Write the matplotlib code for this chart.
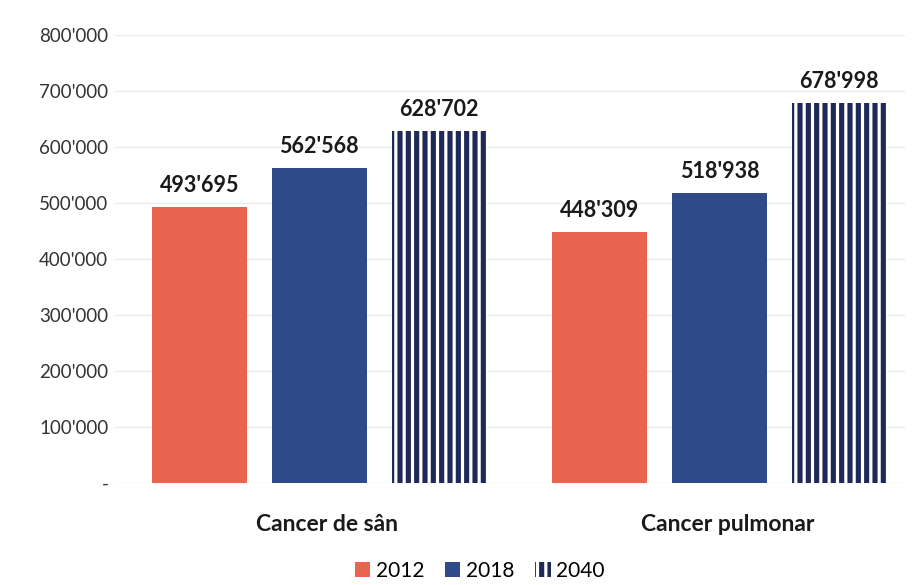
import matplotlib.pyplot as plt

plt.rcParams['font.family'] = ['Lato', 'DejaVu Sans']
plt.rcParams['hatch.linewidth'] = 2.3

categorii = ['Cancer de sân', 'Cancer pulmonar']
ani = ['2012', '2018', '2040']
valori = {
    '2012': [493695, 448309],
    '2018': [562568, 518938],
    '2040': [628702, 678998],
}
etichete_y = ["-", "100'000", "200'000", "300'000", "400'000",
              "500'000", "600'000", "700'000", "800'000"]

culori = {'2012': '#E9644E', '2018': '#2E4A88', '2040': '#1E2957'}
hasuri = {'2012': None, '2018': None, '2040': '||'}

def fmt(v):  # separator de mii cu apostrof
    return f"{v:,}".replace(',', "'")

fig = plt.figure(figsize=(9.22, 5.85), dpi=100)
ax = fig.add_axes([0.125, 0.174, 0.857, 0.766])

w = 0.237
dx = 0.30
for i, an in enumerate(ani):
    xs = [c + (i - 1) * dx for c in range(len(categorii))]
    bars = ax.bar(xs, valori[an], width=w, color=culori[an],
                  hatch=hasuri[an], edgecolor='white' if hasuri[an] else culori[an],
                  linewidth=0, label=an, zorder=3)
    for b, v in zip(bars, valori[an]):
        ax.text(b.get_x() + b.get_width() / 2, v + 19000, fmt(v),
                ha='center', va='bottom', fontsize=15.5, fontweight='bold',
                color='#1a1a1a')

ax.set_ylim(0, 800000)
ax.set_xlim(-0.51, 1.465)
ax.set_yticks(range(0, 800001, 100000))
ax.set_yticklabels(etichete_y, fontsize=13.5, color='#333333')
ax.set_xticks([0.02, 1.02])
ax.set_xticklabels(categorii, fontsize=16.5, fontweight='bold', color='#1a1a1a')
ax.tick_params(axis='both', length=0)
ax.tick_params(axis='x', pad=22)
ax.tick_params(axis='y', pad=5)
ax.grid(axis='y', color='#ededed', linewidth=1, zorder=0)
for s in ax.spines.values():
    s.set_visible(False)

fig.legend(loc='lower center', bbox_to_anchor=(0.52, -0.025), ncol=3, frameon=False,
           fontsize=15, handlelength=0.75, handleheight=0.75, handletextpad=0.25,
           columnspacing=1.0)

fig.savefig('out.png', dpi=100)
